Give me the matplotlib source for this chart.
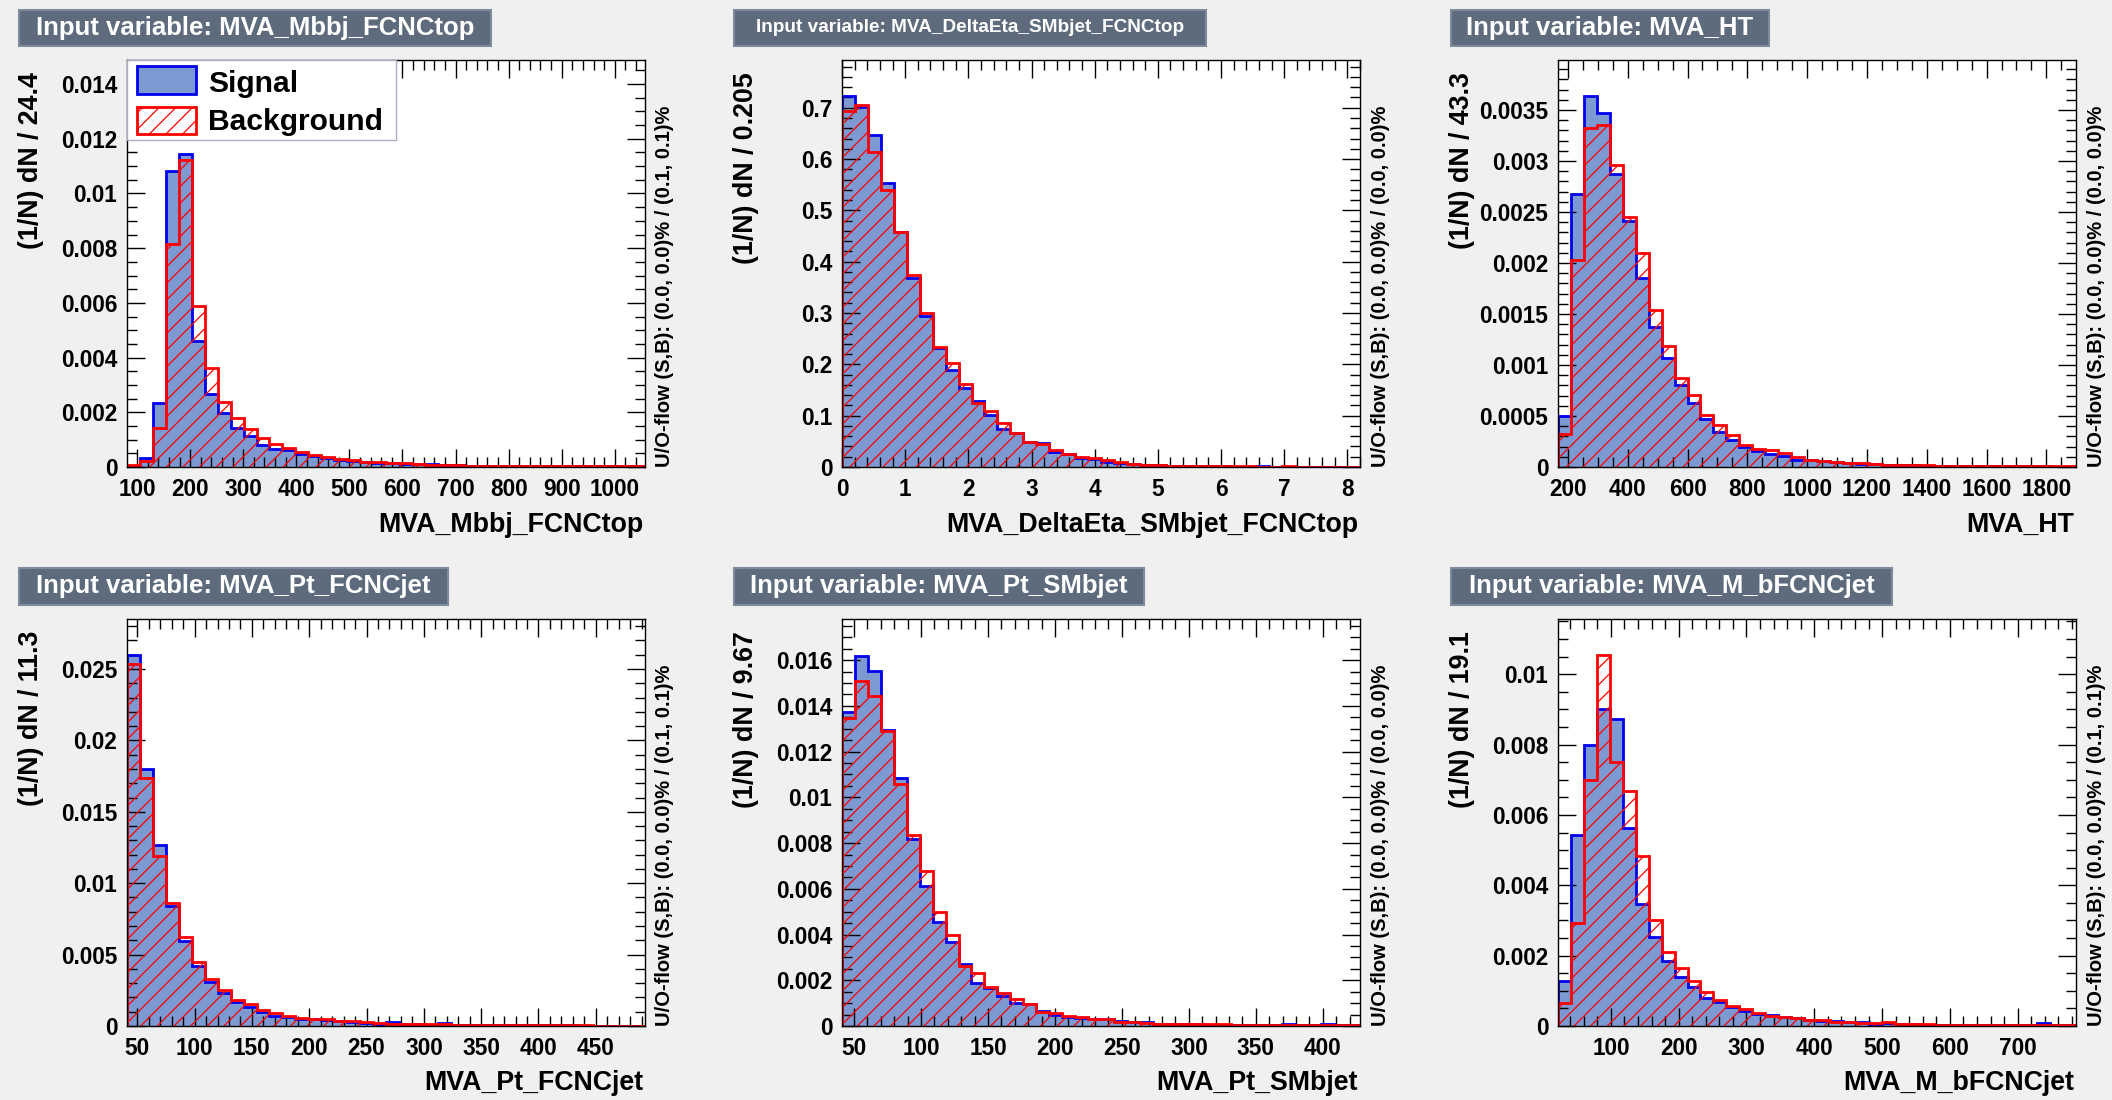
import matplotlib
matplotlib.use("Agg")
import matplotlib.pyplot as plt
from matplotlib.patches import Rectangle
from matplotlib.ticker import MultipleLocator, FuncFormatter
import numpy as np

# ---------------- data ----------------
variables = ["MVA_Mbbj_FCNCtop", "MVA_DeltaEta_SMbjet_FCNCtop", "MVA_HT",
             "MVA_Pt_FCNCjet", "MVA_Pt_SMbjet", "MVA_M_bFCNCjet"]
bin_width_labels = ["24.4", "0.205", "43.3", "11.3", "9.67", "19.1"]
bin_widths = [24.4, 0.205, 43.3, 11.3, 9.67, 19.1]
x_mins = [81.0, 0.0, 167.0, 41.0, 41.0, 22.0]
uoflow_labels = ["U/O-flow (S,B): (0.0, 0.0)% / (0.1, 0.1)%",
                 "U/O-flow (S,B): (0.0, 0.0)% / (0.0, 0.0)%",
                 "U/O-flow (S,B): (0.0, 0.0)% / (0.0, 0.0)%",
                 "U/O-flow (S,B): (0.0, 0.0)% / (0.1, 0.1)%",
                 "U/O-flow (S,B): (0.0, 0.0)% / (0.0, 0.0)%",
                 "U/O-flow (S,B): (0.0, 0.0)% / (0.1, 0.1)%"]

sig_mbbj = [0.00003, 0.00034, 0.00235, 0.01083, 0.01145, 0.00461, 0.00268, 0.00198, 0.00144, 0.00112,
            0.00079, 0.00067, 0.00061, 0.00049, 0.00039, 0.00034, 0.00027, 0.00022, 0.00018, 0.00016,
            0.00015, 0.00012, 0.00011, 0.00010, 0.00008, 0.00007, 0.00004, 0.00004, 0.00003, 0.00003,
            0.00003, 0.00003, 0.00003, 0.00002, 0.00002, 0.00002, 0.00002, 0.00002, 0.00002, 0.00005]
bkg_mbbj = [0.00006, 0.00022, 0.00144, 0.00815, 0.01122, 0.00588, 0.00362, 0.00239, 0.00180, 0.00139,
            0.00107, 0.00083, 0.00071, 0.00055, 0.00043, 0.00037, 0.00028, 0.00027, 0.00020, 0.00017,
            0.00015, 0.00013, 0.00010, 0.00009, 0.00008, 0.00007, 0.00004, 0.00004, 0.00003, 0.00003,
            0.00003, 0.00003, 0.00003, 0.00003, 0.00002, 0.00002, 0.00002, 0.00002, 0.00002, 0.00002]

sig_deta = [0.723, 0.701, 0.646, 0.553, 0.457, 0.369, 0.295, 0.232, 0.189, 0.154,
            0.128, 0.101, 0.075, 0.066, 0.049, 0.047, 0.029, 0.025, 0.018, 0.015,
            0.010, 0.008, 0.006, 0.0045, 0.003, 0.002, 0.0018, 0.0015, 0.0012, 0.001,
            0.0009, 0.0008, 0.0018, 0.0006, 0.0005, 0.0004, 0.0004, 0.0003, 0.0003, 0.0003]
bkg_deta = [0.694, 0.705, 0.614, 0.540, 0.458, 0.375, 0.300, 0.233, 0.202, 0.161,
            0.124, 0.109, 0.086, 0.066, 0.049, 0.044, 0.034, 0.026, 0.019, 0.018,
            0.013, 0.009, 0.0065, 0.0045, 0.0035, 0.0025, 0.002, 0.0018, 0.0015, 0.0012,
            0.001, 0.001, 0.0008, 0.0008, 0.0015, 0.0006, 0.0005, 0.0005, 0.0004, 0.0004]

sig_ht = [0.000498, 0.00268, 0.00364, 0.00347, 0.00287, 0.00241, 0.00185, 0.00137, 0.00107, 0.00080,
          0.00063, 0.00047, 0.00034, 0.00026, 0.00020, 0.00016, 0.000125, 0.000108, 0.000072, 0.000065,
          0.000056, 0.000046, 0.00004, 0.000033, 0.000026, 0.000022, 0.00002, 0.000016, 0.000014, 0.000012,
          0.00001, 0.000009, 0.000008, 0.000007, 0.000006, 0.000006, 0.000012, 0.000005, 0.000004, 0.000004]
bkg_ht = [0.000321, 0.00203, 0.00332, 0.00335, 0.00296, 0.00245, 0.00210, 0.00154, 0.00119, 0.00087,
          0.00071, 0.00051, 0.00041, 0.00031, 0.00022, 0.00018, 0.00017, 0.000138, 0.0001, 0.000072,
          0.00006, 0.000052, 0.00004, 0.000036, 0.000026, 0.000022, 0.00002, 0.000018, 0.000016, 0.000014,
          0.000012, 0.00001, 0.000009, 0.000008, 0.000008, 0.000007, 0.000006, 0.000006, 0.000005, 0.000005]

sig_ptfcnc = [0.02596, 0.01801, 0.01269, 0.00841, 0.00598, 0.00423, 0.00306, 0.00229, 0.00170, 0.00136,
              0.00096, 0.00072, 0.00065, 0.00051, 0.00049, 0.00042, 0.00035, 0.00028, 0.00023, 0.00014,
              0.00030, 0.00014, 0.00012, 0.00010, 0.00023, 0.00010, 0.00008, 0.00007, 0.00006, 0.00006,
              0.00005, 0.00005, 0.00004, 0.00004, 0.00004, 0.00003, 0.00003, 0.00003, 0.00003, 0.00003]
bkg_ptfcnc = [0.02535, 0.01736, 0.01192, 0.00860, 0.00621, 0.00451, 0.00329, 0.00252, 0.00182, 0.00152,
              0.00112, 0.00093, 0.00070, 0.00058, 0.00051, 0.00047, 0.00033, 0.00033, 0.00028, 0.00019,
              0.00016, 0.00014, 0.00013, 0.00012, 0.00011, 0.00010, 0.00009, 0.00008, 0.00007, 0.00006,
              0.00006, 0.00005, 0.00005, 0.00004, 0.00004, 0.00004, 0.00003, 0.00003, 0.00003, 0.00003]

sig_ptsm = [0.01374, 0.01619, 0.01552, 0.01295, 0.01085, 0.00817, 0.00614, 0.00457, 0.00369, 0.00271,
            0.00187, 0.00165, 0.00131, 0.00099, 0.00095, 0.00067, 0.00048, 0.00038, 0.00035, 0.00031,
            0.00029, 0.00023, 0.00019, 0.00019, 0.00010, 0.00009, 0.00008, 0.00007, 0.00006, 0.00006,
            0.00005, 0.00005, 0.00004, 0.00004, 0.00008, 0.00003, 0.00003, 0.00007, 0.00003, 0.00003]
bkg_ptsm = [0.01347, 0.01507, 0.01444, 0.01288, 0.01058, 0.00834, 0.00678, 0.00500, 0.00398, 0.00264,
            0.00230, 0.00172, 0.00143, 0.00120, 0.00095, 0.00060, 0.00055, 0.00045, 0.00038, 0.00032,
            0.00031, 0.00019, 0.00016, 0.00015, 0.00010, 0.00009, 0.00009, 0.00008, 0.00007, 0.00007,
            0.00006, 0.00006, 0.00005, 0.00005, 0.00005, 0.00004, 0.00004, 0.00004, 0.00004, 0.00004]

sig_mbfcnc = [0.00129, 0.00543, 0.00799, 0.00901, 0.00873, 0.00563, 0.00346, 0.00252, 0.00186, 0.00140,
              0.00110, 0.00081, 0.00069, 0.00053, 0.00044, 0.00034, 0.00031, 0.00025, 0.00023, 0.00017,
              0.00015, 0.00015, 0.00010, 0.00011, 0.00006, 0.00008, 0.00005, 0.00005, 0.00004, 0.00004,
              0.00004, 0.00003, 0.00003, 0.00003, 0.00003, 0.00003, 0.00003, 0.00008, 0.00002, 0.00002]
bkg_mbfcnc = [0.00065, 0.00294, 0.00699, 0.01055, 0.00750, 0.00667, 0.00484, 0.00300, 0.00209, 0.00164,
              0.00129, 0.00096, 0.00074, 0.00058, 0.00048, 0.00036, 0.00028, 0.00025, 0.00024, 0.00018,
              0.00018, 0.00011, 0.00011, 0.00008, 0.00008, 0.00010, 0.00006, 0.00005, 0.00005, 0.00004,
              0.00004, 0.00004, 0.00003, 0.00003, 0.00003, 0.00003, 0.00003, 0.00003, 0.00003, 0.00003]

signals = [sig_mbbj, sig_deta, sig_ht, sig_ptfcnc, sig_ptsm, sig_mbfcnc]
backgrounds = [bkg_mbbj, bkg_deta, bkg_ht, bkg_ptfcnc, bkg_ptsm, bkg_mbfcnc]

# ---------------- style / layout ----------------
W, H = 2112, 1100
plt.rcParams['font.family'] = ['Liberation Sans', 'DejaVu Sans']
plt.rcParams['font.weight'] = 'bold'
plt.rcParams['hatch.linewidth'] = 0.9

C_CANVAS = '#f0f0f0'
C_TITLEBOX = '#5d6b7d'
C_TITLEBORDER = '#7d8b9d'
C_SIGFILL = '#7d99d1'
C_SIGLINE = '#0000ee'
C_BKG = '#ff0000'

frames = [(127, 60, 645, 467), (842, 60, 1360, 467), (1558, 60, 2076, 467),
          (127, 619, 645, 1026), (842, 619, 1360, 1026), (1558, 619, 2076, 1026)]
title_boxes = [(19, 10, 491, 46), (734, 10, 1206, 46), (1451, 10, 1769, 46),
               (19, 568, 448, 605), (734, 568, 1144, 605), (1451, 568, 1892, 605)]
title_sizes = [18.5, 13.7, 18.5, 18.5, 18.5, 18.5]
x_major = [100, 1, 200, 50, 50, 100]
x_minor = [20, 0.2, 50, 10, 10, 20]
y_major = [0.002, 0.1, 0.0005, 0.005, 0.002, 0.002]
y_minor = [0.0005, 0.02, 0.0001, 0.001, 0.0005, 0.0005]
y_tops = [0.01488, 0.793, 0.00399, 0.0285, 0.0178, 0.01157]


def fx(px):
    return px / W


def fy(py):
    return 1 - py / H


def fmt(v, pos):
    return '%g' % round(v, 10)


fig = plt.figure(figsize=(W / 100, H / 100), dpi=100, facecolor=C_CANVAS)

for i in range(6):
    l, t, r, b = frames[i]
    ax = fig.add_axes([fx(l), fy(b), (r - l) / W, (b - t) / H])
    ax.set_facecolor('#fffffd')
    nb = len(signals[i])
    edges = x_mins[i] + bin_widths[i] * np.arange(nb + 1)
    s = np.array(signals[i])
    bg = np.array(backgrounds[i])

    ax.stairs(s, edges, fill=True, facecolor=C_SIGFILL, edgecolor='none', linewidth=0, zorder=1)
    ax.stairs(s, edges, baseline=0, color=C_SIGLINE, linewidth=2.0, zorder=2)
    ax.stairs(bg, edges, fill=True, facecolor='none', edgecolor=C_BKG, hatch='//', linewidth=0, zorder=3)
    ax.stairs(bg, edges, baseline=0, color=C_BKG, linewidth=2.0, zorder=4)

    ax.set_xlim(edges[0], edges[-1])
    ax.set_ylim(0, y_tops[i])

    ax.xaxis.set_major_locator(MultipleLocator(x_major[i]))
    ax.xaxis.set_minor_locator(MultipleLocator(x_minor[i]))
    ax.yaxis.set_major_locator(MultipleLocator(y_major[i]))
    ax.yaxis.set_minor_locator(MultipleLocator(y_minor[i]))
    ax.xaxis.set_major_formatter(FuncFormatter(fmt))
    ax.yaxis.set_major_formatter(FuncFormatter(fmt))
    ax.tick_params(which='both', direction='in', top=True, right=True, color='black', width=1.0)
    ax.tick_params(which='major', length=13)
    ax.tick_params(which='minor', length=7)
    ax.tick_params(axis='x', which='major', labelsize=16.3, pad=8)
    ax.tick_params(axis='y', which='major', labelsize=16.3, pad=7)
    for sp in ax.spines.values():
        sp.set_linewidth(1.0)
        sp.set_color('black')
        sp.set_zorder(6)

    # title box
    bl, bt, br, bb = title_boxes[i]
    fig.add_artist(Rectangle((fx(bl), fy(bb)), (br - bl) / W, (bb - bt) / H,
                             transform=fig.transFigure, facecolor=C_TITLEBOX,
                             edgecolor=C_TITLEBORDER, linewidth=1.5, zorder=1))
    fig.text(fx((bl + br) / 2), fy((bt + bb) / 2), "Input variable: " + variables[i],
             ha='center', va='center', color='white', fontsize=title_sizes[i],
             fontweight='bold', zorder=3)

    # axis titles
    fig.text(fx(r - 2), fy(b + 64.5), variables[i], ha='right', va='baseline',
             fontsize=19.3, fontweight='bold')
    fig.text(fx(l - 96), fy(t + 12), "(1/N) dN / " + bin_width_labels[i], rotation=90,
             ha='center', va='top', fontsize=19.3, fontweight='bold')
    fig.text(fx(r + 20), fy(b), uoflow_labels[i], rotation=90, ha='center', va='bottom',
             fontsize=14.5, fontweight='bold')

# legend on first panel
fig.add_artist(Rectangle((fx(127), fy(140)), (396 - 127) / W, 80 / H, transform=fig.transFigure,
                         facecolor='white', edgecolor='#a8b0c0', linewidth=1.0, zorder=1))
fig.add_artist(Rectangle((fx(137), fy(94)), 59 / W, 28 / H, transform=fig.transFigure,
                         facecolor=C_SIGFILL, edgecolor=C_SIGLINE, linewidth=2.0, zorder=2))
fig.add_artist(Rectangle((fx(137), fy(134)), 59 / W, 27 / H, transform=fig.transFigure,
                         facecolor='white', edgecolor=C_BKG, hatch='//', linewidth=2.0, zorder=2))
fig.text(fx(208), fy(92), "Signal", ha='left', va='baseline', fontsize=21.6, fontweight='bold', zorder=3)
fig.text(fx(208), fy(130), "Background", ha='left', va='baseline', fontsize=21.6, fontweight='bold', zorder=3)

fig.savefig("out.png", dpi=100, facecolor=C_CANVAS)
